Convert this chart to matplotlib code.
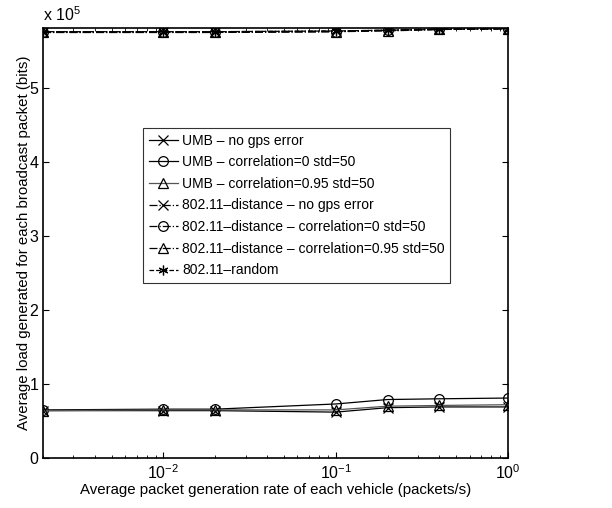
import numpy as np
import matplotlib
matplotlib.use('Agg')
import matplotlib.pyplot as plt
from matplotlib.ticker import FixedLocator, FuncFormatter, LogLocator, NullFormatter

plt.rcParams['font.family'] = ['Liberation Sans', 'DejaVu Sans']
plt.rcParams['mathtext.default'] = 'regular'
plt.rcParams['font.size'] = 10.8

rate = [0.002, 0.01, 0.02, 0.1, 0.2, 0.4, 1.0]

# values in units of 1e5 bits
umb_nogps = [0.64, 0.64, 0.64, 0.62, 0.68, 0.69, 0.69]
umb_c0 = [0.65, 0.66, 0.66, 0.73, 0.79, 0.80, 0.81]
umb_c95 = [0.64, 0.65, 0.65, 0.65, 0.70, 0.71, 0.72]
dist_nogps = [5.76, 5.76, 5.76, 5.77, 5.78, 5.80, 5.80]
dist_c0 = [5.75, 5.75, 5.75, 5.76, 5.78, 5.79, 5.80]
dist_c95 = [5.75, 5.75, 5.75, 5.76, 5.77, 5.79, 5.80]
rand = [5.76, 5.76, 5.76, 5.77, 5.78, 5.79, 5.80]

labels = ['UMB \u2013 no gps error',
          'UMB \u2013 correlation=0 std=50',
          'UMB \u2013 correlation=0.95 std=50',
          '802.11\u2013distance \u2013 no gps error',
          '802.11\u2013distance \u2013 correlation=0 std=50',
          '802.11\u2013distance \u2013 correlation=0.95 std=50',
          '802.11\u2013random']

fig = plt.figure(figsize=(6.12, 5.08), dpi=100)
ax = fig.add_axes([43/612, 1-458/508, (508-43)/612, (458-28)/508])

ms = 7
series = [
    (umb_nogps, '-', 'x', 'black'),
    (umb_c0, '-', 'o', 'black'),
    (umb_c95, '-', '^', '#555555'),
    (dist_nogps, '-.', 'x', 'black'),
    (dist_c0, '-.', 'o', 'black'),
    (dist_c95, '-.', '^', 'black'),
    (rand, '--', (6, 2, 0), 'black'),
]
for (vals, ls, mk, col), lab in zip(series, labels):
    ax.plot(rate, np.array(vals) * 1e5, linestyle=ls, marker=mk, color=col,
            markersize=ms, markerfacecolor='none', markeredgecolor='black',
            markeredgewidth=0.9, linewidth=0.9, label=lab)

ax.set_xscale('log')
ax.set_xlim(0.002, 1)
ax.set_ylim(0, 5.81e5)
ax.xaxis.set_major_locator(FixedLocator([0.01, 0.1, 1]))
ax.xaxis.set_major_formatter(FuncFormatter(lambda v, p: r'$10^{%d}$' % round(np.log10(v))))
ax.xaxis.set_minor_locator(LogLocator(base=10, subs=np.arange(2, 10)))
ax.xaxis.set_minor_formatter(NullFormatter())
ax.set_yticks(np.arange(0, 6) * 1e5)
ax.set_yticklabels([str(i) for i in range(6)])
ax.tick_params(which='both', direction='in', top=True, right=True, labelsize=11.5)
ax.tick_params(which='major', length=4)
ax.tick_params(which='minor', length=2.5)
for s in ax.spines.values():
    s.set_linewidth(1.2)

ax.text(0.0, 1.01, r'x 10$^5$', transform=ax.transAxes, fontsize=11.5, va='bottom', ha='left')

ax.set_xlabel('Average packet generation rate of each vehicle (packets/s)', fontsize=10.8, labelpad=1)
ax.set_ylabel('Average load generated for each broadcast packet (bits)', fontsize=10.8, labelpad=-1)

leg = ax.legend(loc='upper left', bbox_to_anchor=((143-43)/465, (458-128)/430),
                fancybox=False, edgecolor='black', handlelength=2.1,
                handletextpad=0.3, borderpad=0.4, labelspacing=0.55,
                borderaxespad=0, fontsize=10)
leg.get_frame().set_linewidth(0.8)

fig.savefig('out.png', dpi=100)
